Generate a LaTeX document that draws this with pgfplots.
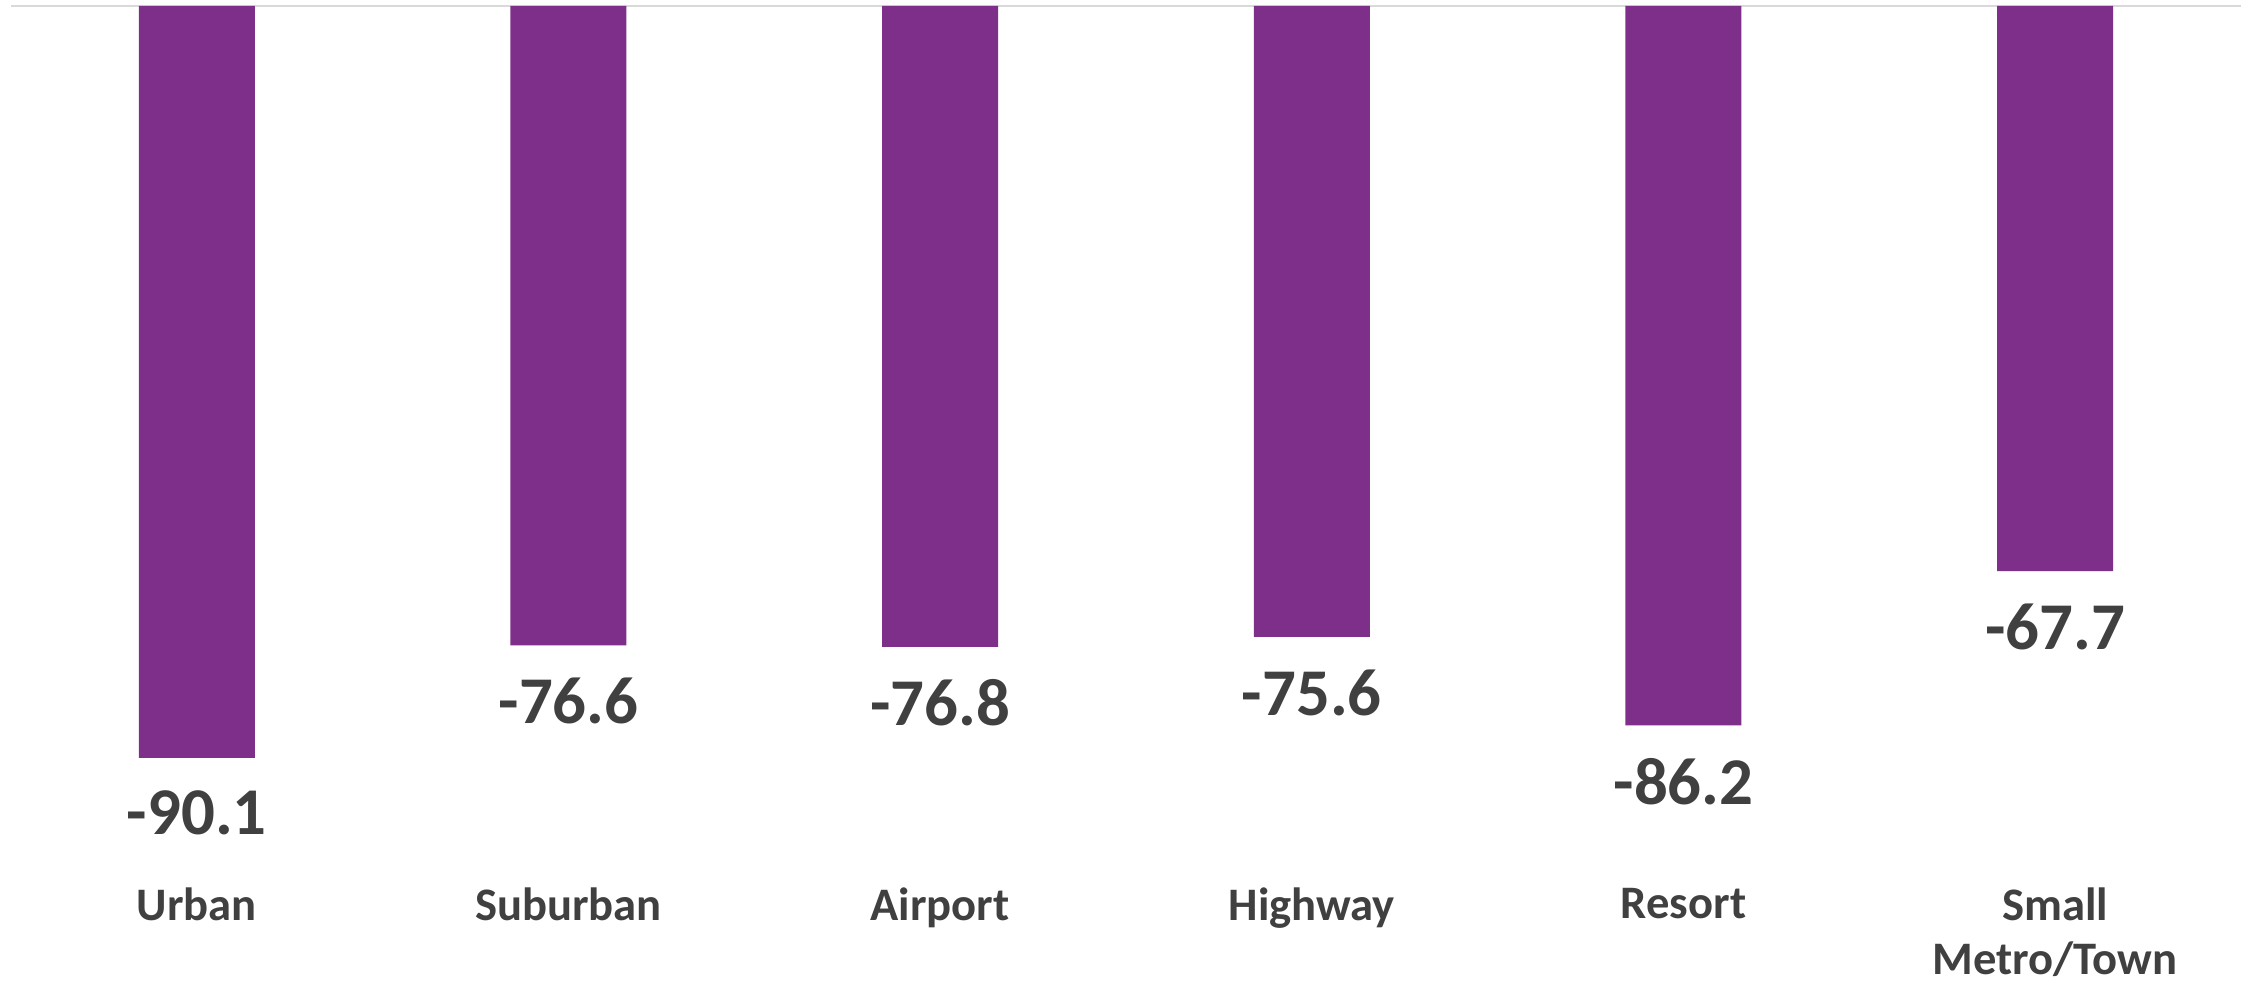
\documentclass[border=0pt]{standalone}
\usepackage{pgfplots}
\pgfplotsset{compat=1.18}
\usepackage{fontspec}
\setmainfont{Carlito}
\definecolor{barpurple}{HTML}{7E2F8A}
\definecolor{txt}{HTML}{404040}
\definecolor{axln}{HTML}{D9D9D9}
\begin{document}
\begin{tikzpicture}
\useasboundingbox (-2.75pt,-24pt) rectangle (559.75pt,221.75pt);
\begin{axis}[
  at={(0pt,0pt)}, anchor=south west,
  scale only axis, width=557.5pt, height=220.25pt,
  xmin=-0.5, xmax=5.5, ymin=-105.56, ymax=0,
  axis line style={draw=none},
  ytick=\empty,
  xtick={0,...,5},
  xticklabels={Urban,Suburban,Airport,Highway,Resort,{Small\\Metro/Town}},
  major tick length=0pt,
  xticklabel style={align=center, inner sep=0pt, anchor=north, font=\fontsize{11.65}{13.4}\selectfont\bfseries, text=txt},
  ybar, bar width=29pt,
  nodes near coords,
  every node near coord/.append style={font=\fontsize{16.7}{20}\selectfont\bfseries, text=txt, inner sep=0pt, yshift=-8pt, /pgf/number format/fixed, /pgf/number format/precision=1, /pgf/number format/fixed zerofill, /pgf/number format/assume math mode=true},
  clip=false,
]
\draw[axln, line width=0.5pt] (axis cs:-0.5,0) -- (axis cs:5.5,0);
\addplot[fill=barpurple, draw=none] coordinates {(0,-90.1) (1,-76.6) (2,-76.8) (3,-75.6) (4,-86.2) (5,-67.7)};
\end{axis}
\end{tikzpicture}
\end{document}
